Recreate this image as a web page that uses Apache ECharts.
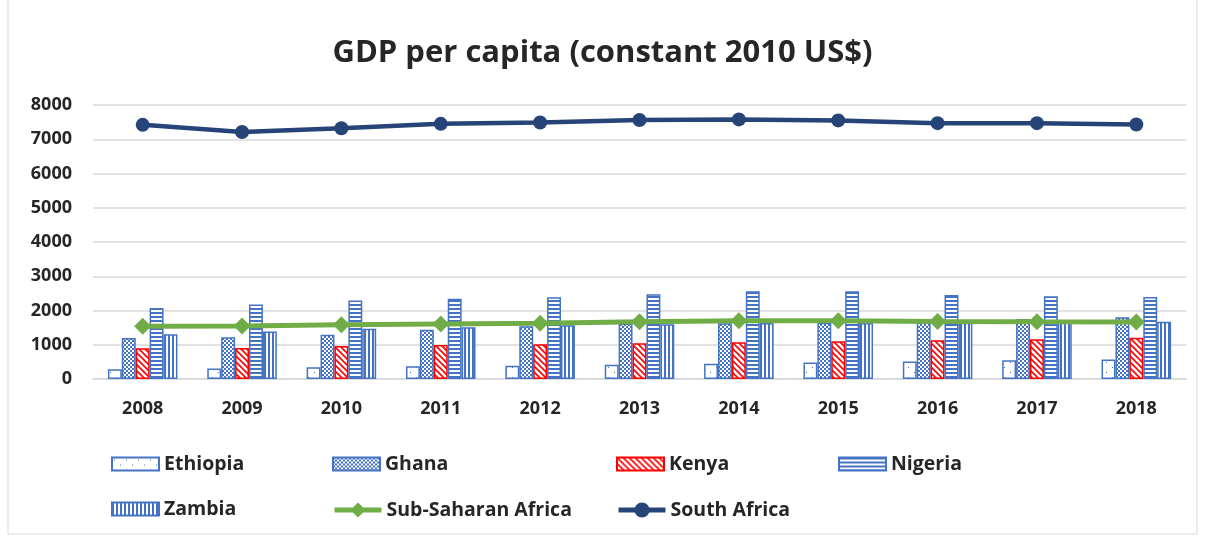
<!DOCTYPE html>
<html>
<head>
<meta charset="utf-8">
<script src="https://cdn.jsdelivr.net/npm/echarts@6/dist/echarts.min.js"></script>
<style>
html,body{margin:0;padding:0;background:#fff;}
#main{width:1205px;height:539px;}
</style>
</head>
<body>
<div id="main"></div>
<script>
// 数据
var years = ['2008','2009','2010','2011','2012','2013','2014','2015','2016','2017','2018'];
var ethiopia = [283, 303, 341, 369, 389, 418, 448, 483, 512, 548, 570];
var ghana = [1195, 1220, 1290, 1440, 1540, 1620, 1630, 1640, 1660, 1750, 1805];
var kenya = [895, 905, 965, 995, 1015, 1045, 1075, 1105, 1135, 1160, 1205];
var nigeria = [2070, 2175, 2290, 2340, 2385, 2475, 2565, 2560, 2450, 2415, 2395];
var zambia = [1310, 1390, 1465, 1510, 1570, 1600, 1635, 1635, 1645, 1660, 1675];
var ssa = [1540, 1545, 1585, 1605, 1625, 1670, 1700, 1700, 1680, 1670, 1665];
var southAfrica = [7420, 7210, 7320, 7450, 7490, 7560, 7580, 7550, 7470, 7470, 7430];
var yTicks = [0, 1000, 2000, 3000, 4000, 5000, 6000, 7000, 8000];

var BLUE = '#4472C4';
var RED = '#FF0000';

// 填充图案
function makePattern(w, h, draw){
	var c = document.createElement('canvas');
	c.width = w; c.height = h;
	var ctx = c.getContext('2d');
	ctx.fillStyle = '#fff';
	ctx.fillRect(0, 0, w, h);
	draw(ctx);
	return {image: c, repeat: 'repeat'};
}
var dotPat = makePattern(12, 10, function(ctx){
	ctx.fillStyle = BLUE;
	ctx.fillRect(2, 2, 1, 1);
	ctx.fillRect(8, 7, 1, 1);
});
var checkPat = makePattern(4, 4, function(ctx){
	ctx.fillStyle = BLUE;
	ctx.fillRect(0, 0, 2, 2);
	ctx.fillRect(2, 2, 2, 2);
});
var diagPat = makePattern(6, 6, function(ctx){
	ctx.strokeStyle = RED;
	ctx.lineWidth = 1.6;
	ctx.beginPath();
	ctx.moveTo(-1, -1); ctx.lineTo(7, 7);
	ctx.moveTo(-4, 2); ctx.lineTo(2, 8);
	ctx.moveTo(2, -4); ctx.lineTo(8, 2);
	ctx.stroke();
});
var hPat = makePattern(4, 4, function(ctx){
	ctx.fillStyle = BLUE;
	ctx.fillRect(0, 0, 4, 2);
});
var vPat = makePattern(4, 4, function(ctx){
	ctx.fillStyle = BLUE;
	ctx.fillRect(0, 0, 2, 4);
});

var FONT = '"Open Sans", "DejaVu Sans", sans-serif';
var TXT = '#262626';

function barSeries(name, data, pat, border){
	return {
		name: name,
		type: 'bar',
		data: data,
		barGap: '0%',
		barCategoryGap: '30%',
		itemStyle: {color: pat, borderColor: border, borderWidth: 1.5},
		emphasis: {disabled: true}
	};
}

function legendAt(name, left, top, isLine){
	var lg = {
		data: [name],
		left: left,
		top: top,
		itemWidth: 47,
		itemHeight: isLine ? 19 : 13,
		itemGap: 0,
		textStyle: {fontFamily: FONT, fontSize: 19.5, fontWeight: 'bold', color: TXT, padding: [0, 0, 0, 0]},
		selectedMode: false
	};
	if (isLine) {
		lg.lineStyle = {width: 5};
	} else {
		lg.icon = 'rect';
	}
	return lg;
}

var myChart = echarts.init(document.getElementById('main'));
myChart.setOption({
	backgroundColor: '#fff',
	animation: false,
	title: {
		text: 'GDP per capita (constant 2010 US$)',
		left: 'center',
		top: 33,
		textStyle: {fontFamily: FONT, fontSize: 31, fontWeight: 'bold', color: TXT}
	},
	legend: [
		legendAt('Ethiopia', 106, 449, false),
		legendAt('Ghana', 327, 449, false),
		legendAt('Kenya', 611, 449, false),
		legendAt('Nigeria', 833, 449, false),
		legendAt('Zambia', 106, 494, false),
		legendAt('Sub-Saharan Africa', 327, 495, true),
		legendAt('South Africa', 611, 495, true)
	],
	grid: {left: 93, right: 19, top: 105, bottom: 160, containLabel: false},
	xAxis: {
		type: 'category',
		data: years,
		axisTick: {show: false},
		axisLine: {lineStyle: {color: '#D9D9D9', width: 1.5}},
		axisLabel: {fontFamily: FONT, fontSize: 18, fontWeight: 'bold', color: TXT, margin: 21}
	},
	yAxis: {
		type: 'value',
		min: yTicks[0],
		max: yTicks[yTicks.length - 1],
		interval: 1000,
		axisLine: {show: false},
		axisTick: {show: false},
		splitLine: {lineStyle: {color: '#D9D9D9', width: 1.5}},
		axisLabel: {
			fontFamily: FONT, fontSize: 18, fontWeight: 'bold', color: TXT, margin: 21,
			formatter: function(v){ return String(v); }
		}
	},
	series: [
		barSeries('Ethiopia', ethiopia, dotPat, BLUE),
		barSeries('Ghana', ghana, checkPat, BLUE),
		barSeries('Kenya', kenya, diagPat, RED),
		barSeries('Nigeria', nigeria, hPat, BLUE),
		barSeries('Zambia', zambia, vPat, BLUE),
		{
			name: 'Sub-Saharan Africa',
			type: 'line',
			data: ssa,
			symbol: 'diamond',
			symbolSize: 17,
			lineStyle: {color: '#70AD47', width: 5},
			itemStyle: {color: '#70AD47'},
			z: 5
		},
		{
			name: 'South Africa',
			type: 'line',
			data: southAfrica,
			symbol: 'circle',
			symbolSize: 14,
			lineStyle: {color: '#264478', width: 4.5},
			itemStyle: {color: '#264478'},
			z: 5
		}
	],
	graphic: [{
		type: 'rect',
		shape: {x: 8, y: -2, width: 1189, height: 536},
		style: {fill: 'none', stroke: '#D9D9D9', lineWidth: 1}
	}]
});
</script>
</body>
</html>
